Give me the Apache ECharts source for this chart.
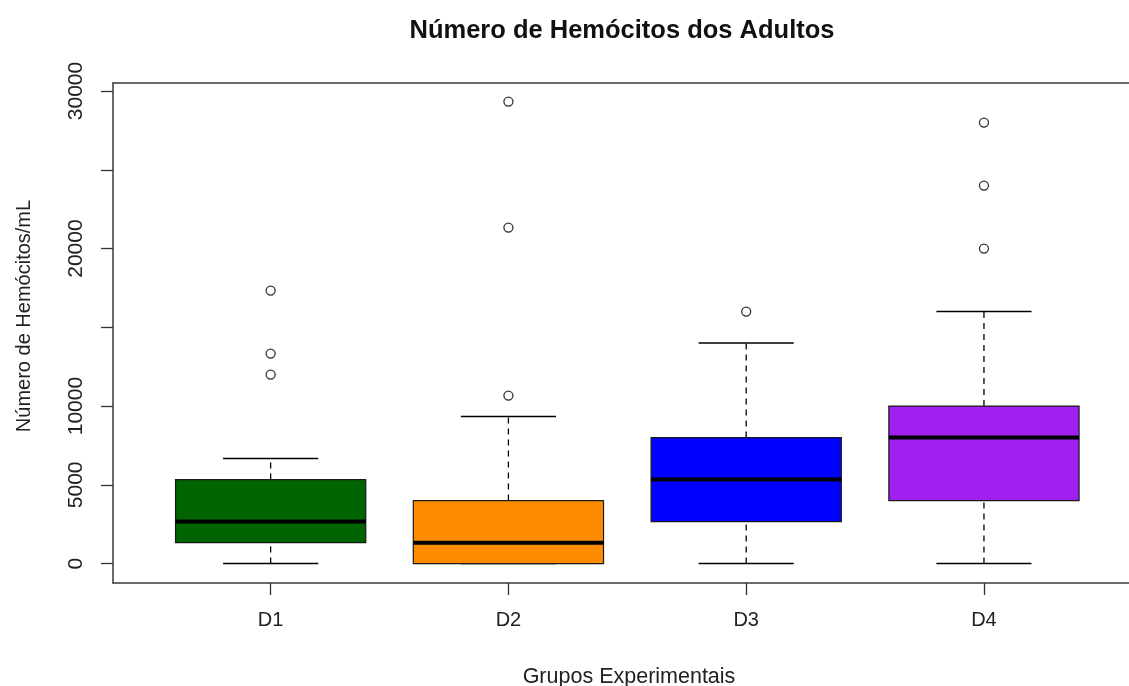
<!DOCTYPE html>
<html>
<head>
<meta charset="utf-8">
<script src="https://cdn.jsdelivr.net/npm/echarts@6/dist/echarts.min.js"></script>
<style>
html,body{margin:0;padding:0;background:#fff;}
#chart{width:1129px;height:686px;}
</style>
</head>
<body>
<div id="chart"></div>
<script>
var categories = ['D1', 'D2', 'D3', 'D4'];
var lowerWhisker = [0, 0, 0, 0];
var q1 = [1333, 0, 2667, 4000];
var median = [2667, 1333, 5333, 8000];
var q3 = [5333, 4000, 8000, 10000];
var upperWhisker = [6667, 9333, 14000, 16000];
var outliers = [
  [17333, 13333, 12000],
  [29333, 21333, 10667],
  [16000],
  [28000, 24000, 20000]
];
var boxColors = ['#006400', '#FF8C00', '#0000FF', '#A020F0'];
var yTicks = [0, 5000, 10000, 15000, 20000, 25000, 30000];
var yLabels = [0, 5000, 10000, 20000, 30000];
var xTicks = [1, 2, 3, 4];

var boxData = categories.map(function (c, i) {
  return [i + 1, lowerWhisker[i], q1[i], median[i], q3[i], upperWhisker[i]];
});
var outlierData = [];
outliers.forEach(function (arr, i) {
  arr.forEach(function (v) { outlierData.push([i + 1, v]); });
});

var FONT = '"Liberation Sans", Arial, Helvetica, sans-serif';
var FRAME = {color: '#3a3a3a', width: 1.5};

var chart = echarts.init(document.getElementById('chart'), null, {renderer: 'canvas'});

function renderBox(params, api) {
  var x = api.value(0);
  var lo = api.coord([x, api.value(1)]);
  var b1 = api.coord([x, api.value(2)]);
  var md = api.coord([x, api.value(3)]);
  var b3 = api.coord([x, api.value(4)]);
  var hi = api.coord([x, api.value(5)]);
  var w = api.size([0.8, 0])[0];
  var cx = lo[0];
  var color = boxColors[params.dataIndex];
  var dash = [6, 5];
  var children = [
    {type: 'line', shape: {x1: cx, y1: b3[1], x2: cx, y2: hi[1]},
     style: {stroke: '#000', lineWidth: 1.3, lineDash: dash}},
    {type: 'line', shape: {x1: cx, y1: lo[1], x2: cx, y2: b1[1]},
     style: {stroke: '#000', lineWidth: 1.3, lineDash: dash}},
    {type: 'line', shape: {x1: cx - w / 4, y1: hi[1], x2: cx + w / 4, y2: hi[1]},
     style: {stroke: '#000', lineWidth: 1.5}},
    {type: 'line', shape: {x1: cx - w / 4, y1: lo[1], x2: cx + w / 4, y2: lo[1]},
     style: {stroke: '#000', lineWidth: 1.5}},
    {type: 'rect', shape: {x: cx - w / 2, y: b3[1], width: w, height: b1[1] - b3[1]},
     style: {fill: color, stroke: '#1a1a1a', lineWidth: 1.2}},
    {type: 'line', shape: {x1: cx - w / 2, y1: md[1], x2: cx + w / 2, y2: md[1]},
     style: {stroke: '#000', lineWidth: 4}}
  ];
  return {type: 'group', children: children};
}

var option = {
  backgroundColor: '#fff',
  animation: false,
  grid: {
    left: 113, top: 83, right: 0, height: 500,
    show: false, containLabel: false
  },
  xAxis: [
    {
      type: 'value', min: 0.337, max: 4.610, position: 'bottom',
      axisLine: {show: true, onZero: false, lineStyle: FRAME},
      splitLine: {show: false},
      axisTick: {show: true, customValues: xTicks, length: 12,
                 lineStyle: {color: '#333', width: 1.3}},
      axisLabel: {
        customValues: xTicks, fontSize: 20, color: '#222', fontFamily: FONT, margin: 27,
        formatter: function (v) { return categories[Math.round(v) - 1] || ''; }
      }
    },
    {
      type: 'value', min: 0.337, max: 4.610, position: 'top',
      axisLine: {show: true, onZero: false, lineStyle: FRAME},
      splitLine: {show: false}, axisTick: {show: false}, axisLabel: {show: false}
    }
  ],
  yAxis: {
    type: 'value', min: -1230, max: 30510,
    axisLine: {show: true, onZero: false, lineStyle: FRAME},
    splitLine: {show: false},
    axisTick: {show: true, customValues: yTicks, length: 12,
               lineStyle: {color: '#333', width: 1.3}},
    axisLabel: {
      customValues: yLabels, rotate: 90, fontSize: 21, color: '#222', fontFamily: FONT, margin: 26,
      formatter: function (v) { return String(v); }
    }
  },
  graphic: [
    {type: 'text', x: 622, y: 31,
     style: {text: 'Número de Hemócitos dos Adultos', fontSize: 25.5, fontWeight: 'bold',
             fontFamily: FONT, fill: '#111', align: 'center', verticalAlign: 'middle'}},
    {type: 'text', x: 629, y: 677,
     style: {text: 'Grupos Experimentais', fontSize: 21.5, fontFamily: FONT, fill: '#222',
             align: 'center', verticalAlign: 'middle'}},
    {type: 'text', x: 24, y: 316, rotation: Math.PI / 2,
     style: {text: 'Número de Hemócitos/mL', fontSize: 20, fontFamily: FONT, fill: '#222',
             align: 'center', verticalAlign: 'middle'}}
  ],
  series: [
    {
      type: 'custom',
      renderItem: renderBox,
      encode: {x: 0, y: [1, 2, 3, 4, 5]},
      data: boxData,
      clip: false,
      z: 2
    },
    {
      type: 'scatter',
      data: outlierData,
      symbol: 'circle',
      symbolSize: 9,
      itemStyle: {color: '#fff', borderColor: '#000', borderWidth: 1.3},
      z: 3
    }
  ]
};
chart.setOption(option);
</script>
</body>
</html>
